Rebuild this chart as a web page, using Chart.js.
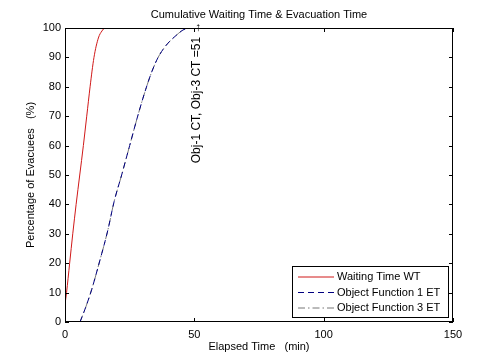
<!DOCTYPE html>
<html>
<head>
<meta charset="utf-8">
<script src="https://cdn.jsdelivr.net/npm/chart.js@4/dist/chart.umd.min.js"></script>
<style>
  html, body { margin: 0; padding: 0; background: #fff; }
  #wrap { width: 500px; height: 361px; }
</style>
</head>
<body>
<div id="wrap"><canvas id="myChart" width="500" height="361"></canvas></div>
<script>
// values
var wtTime = [0, 0.6, 1.8, 3.0, 4.3, 5.7, 7.1, 8.4, 9.7, 11.2, 12.9, 14.3, 15.5, 17];
var wtPct  = [6, 10, 20, 30, 40, 50, 60, 70, 80, 90, 96.6, 99, 100, 100];

var etTime = [5.8, 8, 10.3, 13.5, 16.5, 19, 21.9, 25, 28.1, 30.8, 33.5, 36, 39, 43, 46, 49];
var etPct  = [0, 5, 11, 21, 31, 41, 50, 60, 70, 78, 85, 90, 94, 97.5, 99.5, 100];

var xTicks = [0, 50, 100, 150];
var yTicks = [0, 10, 20, 30, 40, 50, 60, 70, 80, 90, 100];

var FONT = '"Liberation Sans", Arial, sans-serif';

function toPoints(xs, ys) {
  var pts = [];
  for (var i = 0; i < xs.length; i++) pts.push({x: xs[i], y: ys[i]});
  return pts;
}

// matlab-ish box, inward ticks, title, labels, annotation and legend
var matlabStyle = {
  id: 'matlabStyle',
  afterDraw: function (chart) {
    var ctx = chart.ctx, a = chart.chartArea;
    var xs = chart.scales.x, ys = chart.scales.y;
    ctx.save();
    ctx.strokeStyle = '#000';
    ctx.lineWidth = 1;
    ctx.setLineDash([]);
    ctx.strokeRect(a.left + 0.5, a.top + 0.5, a.right - a.left - 1, a.bottom - a.top - 1);

    ctx.beginPath();
    xTicks.forEach(function (v) {
      var px = Math.round(xs.getPixelForValue(v)) + 0.5;
      ctx.moveTo(px, a.bottom); ctx.lineTo(px, a.bottom - 4);
      ctx.moveTo(px, a.top); ctx.lineTo(px, a.top + 4);
    });
    yTicks.forEach(function (v) {
      var py = Math.round(ys.getPixelForValue(v)) + 0.5;
      ctx.moveTo(a.left, py); ctx.lineTo(a.left + 4, py);
      ctx.moveTo(a.right, py); ctx.lineTo(a.right - 4, py);
    });
    ctx.stroke();

    ctx.fillStyle = '#000';
    ctx.font = '11px ' + FONT;
    ctx.textAlign = 'center';
    ctx.textBaseline = 'middle';
    ctx.fillText('Cumulative Waiting Time & Evacuation Time', (a.left + a.right) / 2, 15);
    ctx.fillText('Elapsed Time   (min)', (a.left + a.right) / 2, 347);

    ctx.save();
    ctx.translate(31, (a.top + a.bottom) / 2);
    ctx.rotate(-Math.PI / 2);
    ctx.fillText('Percentage of Evacuees   (%)', 0, 0);
    ctx.restore();

    // annotation at CT = 51
    ctx.save();
    ctx.translate(xs.getPixelForValue(51), ys.getPixelForValue(54));
    ctx.rotate(-Math.PI / 2);
    ctx.textAlign = 'left';
    ctx.font = '12px ' + FONT;
    ctx.fillText('Obj-1 CT, Obj-3 CT =51 \u2192', 0, 0);
    ctx.restore();

    // legend
    var lx = 292, ly = 266, lw = 156, lh = 51;
    ctx.fillStyle = '#fff';
    ctx.fillRect(lx, ly, lw, lh);
    ctx.strokeRect(lx + 0.5, ly + 0.5, lw, lh);
    ctx.textAlign = 'left';
    ctx.font = '11px ' + FONT;
    chart.data.datasets.forEach(function (ds, i) {
      var yy = ly + 11 + i * 15.5;
      ctx.beginPath();
      ctx.strokeStyle = ds.borderColor;
      ctx.setLineDash(ds.borderDash || []);
      ctx.moveTo(298, yy); ctx.lineTo(334, yy);
      ctx.stroke();
      ctx.setLineDash([]);
      ctx.fillStyle = '#000';
      ctx.fillText(ds.label, 337, yy);
    });
    ctx.restore();
  }
};

var config = {
  type: 'line',
  data: {
    datasets: [{
      label: 'Waiting Time WT',
      data: toPoints(wtTime, wtPct),
      borderColor: '#d01818',
      borderWidth: 1
    }, {
      label: 'Object Function 1 ET',
      data: toPoints(etTime, etPct),
      borderColor: '#000080',
      borderDash: [6, 4],
      borderWidth: 1
    }, {
      label: 'Object Function 3 ET',
      data: toPoints(etTime, etPct),
      borderColor: '#777777',
      borderDash: [7, 3, 1.5, 3],
      borderWidth: 1
    }]
  },
  options: {
    responsive: false,
    animation: false,
    events: [],
    layout: { padding: { top: 28, right: 47, left: 0, bottom: 0 } },
    elements: { point: { radius: 0 }, line: { cubicInterpolationMode: 'monotone' } },
    plugins: { legend: { display: false }, title: { display: false }, tooltip: { enabled: false } },
    scales: {
      x: {
        type: 'linear', min: 0, max: 150,
        afterFit: function (s) { s.height = 39; },
        afterBuildTicks: function (s) { s.ticks = xTicks.map(function (v) { return {value: v}; }); },
        grid: { display: false, drawTicks: false },
        border: { display: false },
        ticks: { color: '#000', font: { family: FONT, size: 11 }, padding: 6, maxRotation: 0 }
      },
      y: {
        type: 'linear', min: 0, max: 100,
        afterFit: function (s) { s.width = 65; },
        afterBuildTicks: function (s) { s.ticks = yTicks.map(function (v) { return {value: v}; }); },
        grid: { display: false, drawTicks: false },
        border: { display: false },
        ticks: { color: '#000', font: { family: FONT, size: 11 }, padding: 4 }
      }
    }
  },
  plugins: [matlabStyle]
};

var ctx = document.getElementById('myChart').getContext('2d');
window.myLine = new Chart(ctx, config);
</script>
</body>
</html>
